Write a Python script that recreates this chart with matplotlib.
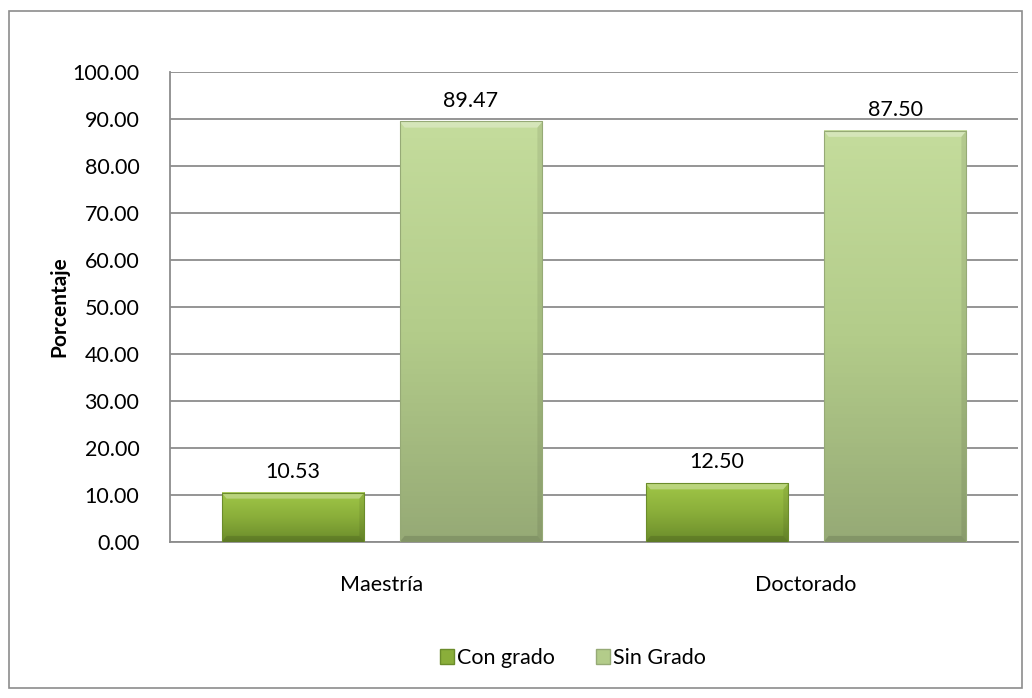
import matplotlib.pyplot as plt
import numpy as np
from matplotlib.patches import Rectangle, Polygon
from matplotlib.colors import LinearSegmentedColormap

plt.rcParams['font.family'] = ['Lato', 'DejaVu Sans']

categorias = ['Maestría', 'Doctorado']
series = ['Con grado', 'Sin Grado']
con_grado = [10.53, 12.50]
sin_grado = [89.47, 87.50]
yticks = [0, 10, 20, 30, 40, 50, 60, 70, 80, 90, 100]

# top / middle / bottom colours of each gradient
colores = {
    'Con grado': ('#a0c647', '#8aae3a', '#6b8c2b'),
    'Sin Grado': ('#c4dc9c', '#b3cc8a', '#96aa76'),
}

FS = 15.5

fig = plt.figure(figsize=(10.32, 6.98), dpi=100)
fig.patches.append(Rectangle((9 / 1032, 10 / 698), 1013 / 1032, 677 / 698,
                             transform=fig.transFigure, fill=False,
                             edgecolor='#8c8c8c', linewidth=1.2))

ax = fig.add_axes([170 / 1032, 156 / 698, 848 / 1032, 470 / 698])
ax.set_xlim(0, 2)
ax.set_ylim(0, 100)
ax.set_yticks(yticks)
ax.set_yticklabels([f'{v:.2f}' for v in yticks], fontsize=FS)
ax.tick_params(axis='y', length=0, pad=22)
ax.tick_params(axis='x', length=0, pad=24)
ax.set_xticks([0.5, 1.5])
ax.set_xticklabels(categorias, fontsize=FS)
ax.grid(axis='y', color='#8c8c8c', linewidth=1.3)
ax.set_axisbelow(True)
for s in ['top', 'right']:
    ax.spines[s].set_visible(False)
for s in ['left', 'bottom']:
    ax.spines[s].set_color('#8c8c8c')
    ax.spines[s].set_linewidth(1.3)
ax.set_ylabel('Porcentaje', fontsize=FS - 0.5, fontweight='bold', labelpad=2)

ancho = 0.337
sep = 0.0415


def barra(x0, h, nombre):
    top, mid, bot = colores[nombre]
    cmap = LinearSegmentedColormap.from_list(nombre, [bot, mid, top])
    grad = np.linspace(0, 1, 100).reshape(-1, 1)
    ax.imshow(grad, cmap=cmap, aspect='auto', origin='lower',
              extent=(x0, x0 + ancho, 0, h), zorder=3)
    # bevel edges
    bx = 0.012
    by = 1.3
    ax.add_patch(Polygon([(x0, h), (x0 + ancho, h), (x0 + ancho - bx, h - by),
                          (x0 + bx, h - by)], closed=True,
                         facecolor='white', alpha=0.3, lw=0, zorder=4))
    ax.add_patch(Polygon([(x0, 0), (x0 + ancho, 0), (x0 + ancho - bx, by),
                          (x0 + bx, by)], closed=True,
                         facecolor='black', alpha=0.12, lw=0, zorder=4))
    ax.add_patch(Polygon([(x0 + ancho, 0), (x0 + ancho, h),
                          (x0 + ancho - bx, h - by), (x0 + ancho - bx, by)],
                         closed=True, facecolor='black', alpha=0.08, lw=0,
                         zorder=4))
    ax.add_patch(Rectangle((x0, 0), ancho, h, fill=False,
                           edgecolor=bot, linewidth=0.8, zorder=5))
    ax.text(x0 + ancho / 2, h + 2.3, f'{h:.2f}', ha='center', va='bottom',
            fontsize=FS, zorder=6)


for i in range(len(categorias)):
    c = i + 0.5
    barra(c - sep - ancho, con_grado[i], 'Con grado')
    barra(c + sep, sin_grado[i], 'Sin Grado')

ax.set_xlim(0, 2)
ax.set_ylim(0, 100)

# legend
handles = [Rectangle((0, 0), 1, 1, facecolor=colores[n][1],
                     edgecolor=colores[n][2]) for n in series]
fig.legend(handles, series, loc='center', bbox_to_anchor=(0.555, 0.057),
           ncol=2, frameon=False, fontsize=FS, handlelength=0.65,
           handleheight=0.65, handletextpad=0.15, columnspacing=1.9)

fig.savefig('out.png', dpi=100)
